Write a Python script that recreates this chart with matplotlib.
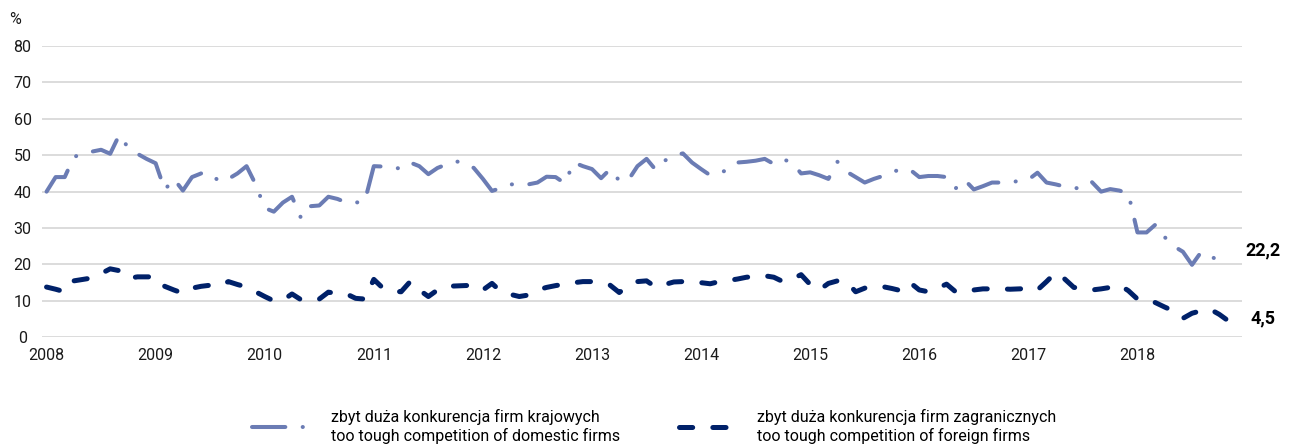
import numpy as np
import matplotlib
import matplotlib.pyplot as plt

matplotlib.use('Agg')

# monthly survey results, Jan 2008 - Nov 2018 (% of firms)
years = [str(y) for y in range(2008, 2019)]

domestic = [
    40, 44, 44, 49.5, 50.5, 51, 51.5, 50.4, 55.6, 52, 50.4, 49,
    47.8, 40.5, 43.5, 40.3, 44, 45, 45, 42.8, 43.5, 45, 47, 42,
    35.5, 34.5, 37, 38.6, 32.7, 36, 36.2, 38.6, 38, 37, 37, 37.3,
    47, 46.9, 46.5, 46.4, 48, 47, 44.8, 46.5, 47.5, 48.3, 48, 46.5,
    43.5, 40.2, 41, 42, 42, 42, 42.5, 44.1, 44, 42.3, 48, 47,
    46.2, 43.7, 46.2, 43, 43.2, 47, 49, 46, 48.5, 50, 50.5, 48,
    46.2, 44.5, 45.2, 46, 48, 48.2, 48.5, 49, 47.6, 48.9, 48, 45,
    45.3, 44.5, 43.5, 48.2, 45.5, 44, 42.5, 43.5, 44.3, 45.5, 46, 46,
    44, 44.3, 44.3, 44, 40.9, 43.2, 40.6, 41.5, 42.5, 42.5, 42.5, 43,
    43.3, 45.2, 42.5, 42, 41.4, 41, 40.9, 42.6, 40, 40.7, 40.3, 39.5,
    28.8, 28.8, 31, 27.5, 25, 23.5, 19.9, 23.4, 22.3, 21, 22.2,
]

foreign = [
    13.8, 13.2, 12.5, 15.5, 15.9, 16.3, 17.5, 18.8, 18.3, 16.2, 16.6, 16.6,
    16.6, 14, 13, 12.1, 13.5, 14, 14.3, 14.1, 15.3, 14.5, 13.8, 12.5,
    11.2, 10, 10.2, 11.9, 10.3, 10.2, 10.5, 12.4, 12, 11.9, 10.7, 10.5,
    15.9, 13.5, 12.7, 12.5, 15.3, 13, 11.2, 13, 14, 14.1, 14.2, 14.3,
    13, 14.8, 12.5, 11.8, 11.2, 11.6, 13, 13.7, 14.2, 14.6, 15, 15.3,
    15.3, 15, 14.3, 12.3, 14.2, 15.3, 15.5, 13.8, 14.5, 15.2, 15.3, 15.1,
    15, 14.7, 15.3, 15.6, 16, 16.5, 16.7, 16.9, 16.5, 15.3, 16, 17.2,
    14.5, 13, 14.8, 15.5, 15.3, 12.5, 13.5, 14, 13.9, 13.4, 12.8, 15,
    13, 12.5, 13.5, 14.6, 12.5, 12.5, 13, 13.3, 13.3, 13.3, 13.2, 13.3,
    13.4, 13, 15.3, 17.8, 16, 13.7, 13.4, 13, 13.3, 13.7, 14.4, 12.8,
    10.5, 10.5, 9.5, 8.3, 7.2, 5.2, 6.6, 7.3, 7.7, 6.3, 4.5,
]

label_domestic = 'zbyt duża konkurencja firm krajowych\ntoo tough competition of domestic firms'
label_foreign = 'zbyt duża konkurencja firm zagranicznych\ntoo tough competition of foreign firms'

color_domestic = '#6b7cb4'
color_foreign = '#002169'

plt.rcParams['font.family'] = ['Roboto', 'DejaVu Sans']
plt.rcParams['lines.scale_dashes'] = False

fig = plt.figure(figsize=(12.96, 4.48), dpi=100)
ax = fig.add_axes([42 / 1296, 1 - 337.3 / 448, 1200 / 1296, 291.3 / 448])

x = np.arange(len(domestic))

ax.plot(x, domestic, color=color_domestic, lw=2.9,
        linestyle=(0, (24, 12.5, 0.1, 12.5)), dash_capstyle='round',
        dash_joinstyle='round', label=label_domestic)
ax.plot(x, foreign, color=color_foreign, lw=3.6,
        linestyle=(0, (9.5, 14.5)), dash_capstyle='round',
        dash_joinstyle='round', label=label_foreign)

# last values written next to the line ends
for series, dx, dy in [(domestic, 12, 4), (foreign, 16, 2)]:
    ax.annotate(f'{series[-1]:.1f}'.replace('.', ','),
                xy=(x[-1], series[-1]), xytext=(dx, dy),
                textcoords='offset points', va='center', ha='left',
                fontsize=13, fontweight='bold', color='black')

ax.set_xlim(-0.5, len(x) + 0.5)
ax.set_ylim(0, 80)
ax.set_yticks(range(0, 81, 10))
ax.set_xticks(range(0, len(x), 12))
ax.set_xticklabels(years)

ax.grid(axis='y', color='#d9d9d9', lw=1.3)
ax.set_axisbelow(True)
for side in ['top', 'right', 'left', 'bottom']:
    ax.spines[side].set_visible(False)

ax.tick_params(axis='both', length=0, labelsize=11.5, colors='#1a1a1a')
ax.tick_params(axis='x', pad=8)
ax.tick_params(axis='y', pad=14)
for lab in ax.get_yticklabels():
    lab.set_horizontalalignment('center')

fig.text(15 / 1296, 1 - 19 / 448, '%', fontsize=11.5, color='#1a1a1a',
         ha='center', va='center')

fig.legend(loc='center', bbox_to_anchor=(0.505, 0.048), ncol=2, frameon=False,
           fontsize=11.5, handlelength=4.0, handletextpad=0.9,
           columnspacing=3.7, labelspacing=0)

fig.savefig('out.png', dpi=100)
